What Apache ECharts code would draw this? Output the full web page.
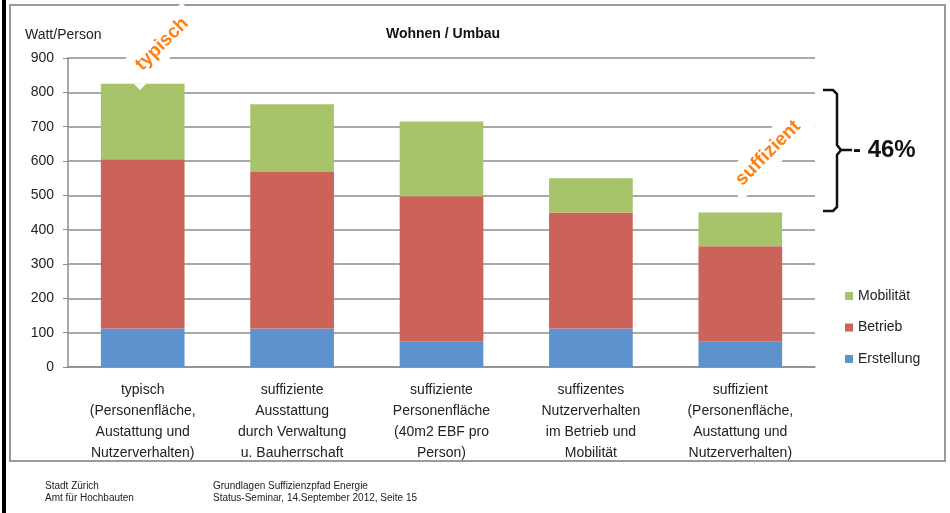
<!DOCTYPE html>
<html>
<head>
<meta charset="utf-8">
<script src="https://cdn.jsdelivr.net/npm/echarts@6/dist/echarts.min.js"></script>
<style>
html, body { margin: 0; padding: 0; background: #fff; }
#chart { width: 950px; height: 513px; }
</style>
</head>
<body>
<div id="chart"></div>
<script>
// Kategorien (x-Achse)
var categories = [
    'typisch\n(Personenfläche,\nAustattung und\nNutzerverhalten)',
    'suffiziente\nAusstattung\ndurch Verwaltung\nu. Bauherrschaft',
    'suffiziente\nPersonenfläche\n(40m2 EBF pro\nPerson)',
    'suffizentes\nNutzerverhalten\nim Betrieb und\nMobilität',
    'suffizient\n(Personenfläche,\nAustattung und\nNutzerverhalten)'
];
// Werte in Watt/Person
var erstellung = [112, 112, 75, 112, 75];
var betrieb    = [493, 456, 422, 338, 277];
var mobilitaet = [220, 197, 218, 100, 98];
var yTicks = [0, 100, 200, 300, 400, 500, 600, 700, 800, 900];

var font = '"Liberation Sans", Arial, sans-serif';
var myChart = echarts.init(document.getElementById('chart'));
myChart.setOption({
    animation: false,
    backgroundColor: '#ffffff',
    title: {
        text: 'Wohnen / Umbau',
        left: 438, top: 22, textAlign: 'center',
        textStyle: { fontFamily: font, fontSize: 14, fontWeight: 'bold', color: '#111' }
    },
    legend: {
        orient: 'vertical',
        left: 845, top: 289, padding: 0,
        itemWidth: 8, itemHeight: 8, itemGap: 17.5,
        icon: 'rect',
        data: ['Mobilität', 'Betrieb', 'Erstellung'],
        textStyle: { fontFamily: font, fontSize: 14, color: '#222' }
    },
    grid: { left: 68, right: 135, top: 58, bottom: 146 },
    xAxis: {
        type: 'category',
        data: categories,
        axisTick: { show: false },
        axisLine: { lineStyle: { color: '#8c8c8c', width: 1.5 } },
        axisLabel: { interval: 0, margin: 13, lineHeight: 21, fontFamily: font, fontSize: 14, color: '#222' }
    },
    yAxis: {
        type: 'value',
        min: 0, max: 900, interval: 100,
        axisLine: { show: true, lineStyle: { color: '#8c8c8c', width: 1.5 } },
        axisTick: { show: true, length: 5, lineStyle: { color: '#8c8c8c' } },
        splitLine: { lineStyle: { color: '#8c8c8c', width: 1.5 } },
        axisLabel: {
            margin: 14, fontFamily: font, fontSize: 14, color: '#222',
            formatter: function (v) { return yTicks.indexOf(v) >= 0 ? String(v) : ''; }
        }
    },
    series: [
        { name: 'Erstellung', type: 'bar', stack: 'total', barWidth: '56%', data: erstellung, itemStyle: { color: '#5e92cc' } },
        { name: 'Betrieb', type: 'bar', stack: 'total', data: betrieb, itemStyle: { color: '#cb635a' } },
        { name: 'Mobilität', type: 'bar', stack: 'total', data: mobilitaet, itemStyle: { color: '#a8c46b' } }
    ],
    graphic: [
        // Rahmen
        { type: 'rect', shape: { x: 10, y: 5, width: 935, height: 456 }, style: { fill: 'none', stroke: '#9a9a9a', lineWidth: 2 }, silent: true },
        { type: 'rect', shape: { x: 2, y: 0, width: 4, height: 513 }, style: { fill: '#000' }, silent: true },
        // Achsentitel
        { type: 'text', left: 25, top: 28, style: { text: 'Watt/Person', font: '14px ' + font, fill: '#222' } },
        // Annotation "typisch"
        { type: 'polygon', shape: { points: [[134, 84], [146, 84], [140, 90]] }, style: { fill: '#fff' }, z: 100 },
        { type: 'text', x: 162, y: 44, rotation: Math.PI / 4, z: 100,
          style: { text: 'typisch', font: 'bold 19px ' + font, fill: '#ff7f0f', align: 'center', verticalAlign: 'middle',
                   backgroundColor: '#fff', padding: [6, 10] } },
        // Annotation "suffizient"
        { type: 'text', x: 768, y: 153, rotation: Math.PI / 4, z: 100,
          style: { text: 'suffizient', font: 'bold 19px ' + font, fill: '#ff7f0f', align: 'center', verticalAlign: 'middle',
                   backgroundColor: '#fff', padding: [6, 10] } },
        // Klammer
        { type: 'polyline', z: 100,
          shape: { points: [[823, 90], [833, 90], [837, 94], [837, 145], [841, 150], [837, 155], [837, 207], [833, 211], [823, 211]] },
          style: { stroke: '#111', lineWidth: 2.5, fill: 'none' } },
        { type: 'line', z: 100, shape: { x1: 841, y1: 150, x2: 852, y2: 150 }, style: { stroke: '#111', lineWidth: 2.5 } },
        { type: 'text', left: 853, top: 138, z: 100, style: { text: '- 46%', font: 'bold 24px ' + font, fill: '#111' } },
        // Fusszeile
        { type: 'text', left: 45, top: 480, style: { text: 'Stadt Zürich\nAmt für Hochbauten', font: '10px ' + font, fill: '#222', lineHeight: 12 } },
        { type: 'text', left: 213, top: 480, style: { text: 'Grundlagen Suffizienzpfad Energie\nStatus-Seminar, 14.September 2012, Seite 15', font: '10px ' + font, fill: '#222', lineHeight: 12 } }
    ]
});
</script>
</body>
</html>
